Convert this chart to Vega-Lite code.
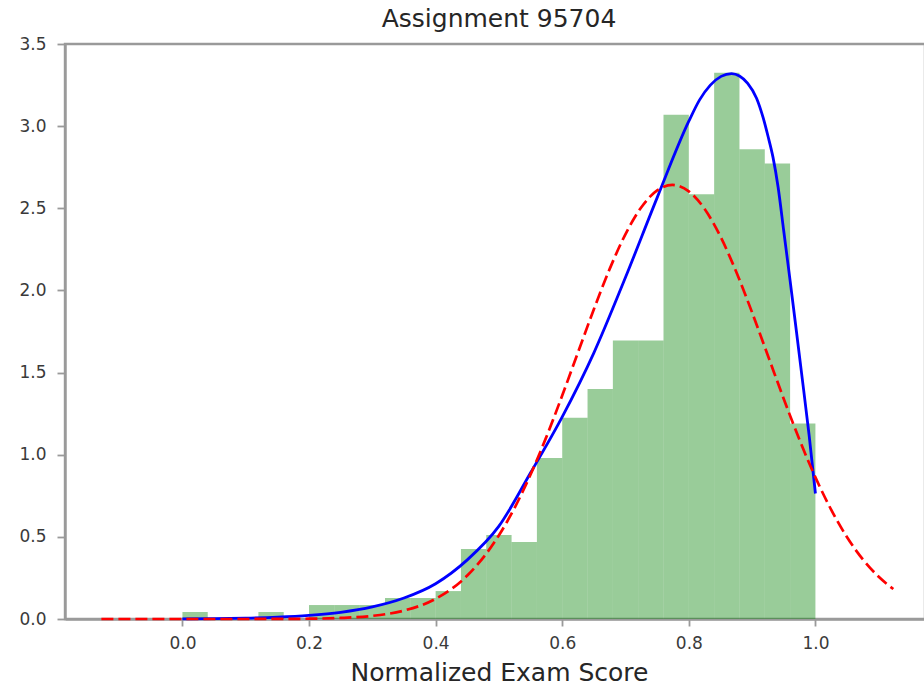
{
  "$schema": "https://vega.github.io/schema/vega-lite/v6.json",
  "width": 860,
  "height": 575,
  "autosize": {"type": "none"},
  "padding": {"left": 65, "top": 44, "right": 0, "bottom": 71},
  "title": {
    "text": "Assignment 95704",
    "font": "DejaVu Sans",
    "fontSize": 25,
    "fontWeight": "normal",
    "color": "#262626",
    "anchor": "middle",
    "dx": 4,
    "offset": 3
  },
  "datasets": {
    "bins": [
      {"start": 0.00, "end": 0.04, "density": 0.043},
      {"start": 0.04, "end": 0.08, "density": 0},
      {"start": 0.08, "end": 0.12, "density": 0},
      {"start": 0.12, "end": 0.16, "density": 0.043},
      {"start": 0.16, "end": 0.20, "density": 0},
      {"start": 0.20, "end": 0.24, "density": 0.085},
      {"start": 0.24, "end": 0.28, "density": 0.085},
      {"start": 0.28, "end": 0.32, "density": 0.085},
      {"start": 0.32, "end": 0.36, "density": 0.128},
      {"start": 0.36, "end": 0.40, "density": 0.128},
      {"start": 0.40, "end": 0.44, "density": 0.17},
      {"start": 0.44, "end": 0.48, "density": 0.426},
      {"start": 0.48, "end": 0.52, "density": 0.511},
      {"start": 0.52, "end": 0.56, "density": 0.468},
      {"start": 0.56, "end": 0.60, "density": 0.98},
      {"start": 0.60, "end": 0.64, "density": 1.225},
      {"start": 0.64, "end": 0.68, "density": 1.40},
      {"start": 0.68, "end": 0.72, "density": 1.695},
      {"start": 0.72, "end": 0.76, "density": 1.695},
      {"start": 0.76, "end": 0.80, "density": 3.07},
      {"start": 0.80, "end": 0.84, "density": 2.585},
      {"start": 0.84, "end": 0.88, "density": 3.325},
      {"start": 0.88, "end": 0.92, "density": 2.86},
      {"start": 0.92, "end": 0.96, "density": 2.772},
      {"start": 0.96, "end": 1.00, "density": 1.19}
    ],
    "skewfit": [
      {"score": 0.00, "pdf": 0.001},
      {"score": 0.05, "pdf": 0.002},
      {"score": 0.10, "pdf": 0.005},
      {"score": 0.15, "pdf": 0.011},
      {"score": 0.20, "pdf": 0.022},
      {"score": 0.25, "pdf": 0.041},
      {"score": 0.30, "pdf": 0.074},
      {"score": 0.35, "pdf": 0.128},
      {"score": 0.40, "pdf": 0.215},
      {"score": 0.45, "pdf": 0.36},
      {"score": 0.50, "pdf": 0.565},
      {"score": 0.55, "pdf": 0.89},
      {"score": 0.60, "pdf": 1.23},
      {"score": 0.65, "pdf": 1.62},
      {"score": 0.70, "pdf": 2.08},
      {"score": 0.75, "pdf": 2.565},
      {"score": 0.80, "pdf": 3.03},
      {"score": 0.817, "pdf": 3.16},
      {"score": 0.834, "pdf": 3.25},
      {"score": 0.851, "pdf": 3.303},
      {"score": 0.8676, "pdf": 3.32},
      {"score": 0.88, "pdf": 3.305},
      {"score": 0.893, "pdf": 3.26},
      {"score": 0.907, "pdf": 3.17},
      {"score": 0.9175, "pdf": 3.05},
      {"score": 0.925, "pdf": 2.94},
      {"score": 0.933, "pdf": 2.81},
      {"score": 0.941, "pdf": 2.63},
      {"score": 0.95, "pdf": 2.36},
      {"score": 0.96, "pdf": 2.06},
      {"score": 0.97, "pdf": 1.75},
      {"score": 0.978, "pdf": 1.50},
      {"score": 0.99, "pdf": 1.12},
      {"score": 1.00, "pdf": 0.764}
    ],
    "normfit": [
      {"score": -0.128, "pdf": 0},
      {"score": -0.10, "pdf": 0},
      {"score": -0.05, "pdf": 0},
      {"score": 0.00, "pdf": 0.00001},
      {"score": 0.05, "pdf": 0.00003},
      {"score": 0.10, "pdf": 0.00012},
      {"score": 0.15, "pdf": 0.0005},
      {"score": 0.20, "pdf": 0.0019},
      {"score": 0.25, "pdf": 0.0064},
      {"score": 0.30, "pdf": 0.0191},
      {"score": 0.35, "pdf": 0.0513},
      {"score": 0.40, "pdf": 0.1229},
      {"score": 0.45, "pdf": 0.2644},
      {"score": 0.50, "pdf": 0.5094},
      {"score": 0.525, "pdf": 0.6785},
      {"score": 0.55, "pdf": 0.8793},
      {"score": 0.575, "pdf": 1.1086},
      {"score": 0.60, "pdf": 1.3604},
      {"score": 0.625, "pdf": 1.6238},
      {"score": 0.65, "pdf": 1.8858},
      {"score": 0.675, "pdf": 2.1311},
      {"score": 0.70, "pdf": 2.3429},
      {"score": 0.725, "pdf": 2.5065},
      {"score": 0.75, "pdf": 2.6088},
      {"score": 0.774, "pdf": 2.642},
      {"score": 0.80, "pdf": 2.6031},
      {"score": 0.825, "pdf": 2.4956},
      {"score": 0.85, "pdf": 2.3276},
      {"score": 0.875, "pdf": 2.1123},
      {"score": 0.90, "pdf": 1.8653},
      {"score": 0.925, "pdf": 1.6025},
      {"score": 0.95, "pdf": 1.3395},
      {"score": 0.975, "pdf": 1.0893},
      {"score": 1.00, "pdf": 0.8621},
      {"score": 1.05, "pdf": 0.4973},
      {"score": 1.10, "pdf": 0.2570},
      {"score": 1.123, "pdf": 0.1827}
    ]
  },
  "layer": [
    {
      "data": {"name": "bins"},
      "mark": {"type": "rect", "fill": "#008000", "fillOpacity": 0.4, "stroke": null},
      "encoding": {
        "x": {
          "field": "start",
          "type": "quantitative",
          "scale": {"domain": [-0.1855, 1.1731], "nice": false, "zero": false},
          "axis": {
            "values": [0, 0.2, 0.4, 0.6, 0.8, 1.0],
            "format": ".1f",
            "title": "Normalized Exam Score",
            "titleFontSize": 25,
            "titleX": 434,
            "titleY": 61,
            "titleBaseline": "alphabetic",
            "titleAnchor": "middle",
            "titleAlign": "center",
            "tickSize": 7,
            "labelPadding": 9,
            "labelFontSize": 17
          }
        },
        "x2": {"field": "end"},
        "y": {
          "field": "density",
          "type": "quantitative",
          "scale": {"domain": [0, 3.5], "nice": false},
          "axis": {
            "values": [0, 0.5, 1.0, 1.5, 2.0, 2.5, 3.0, 3.5],
            "format": ".1f",
            "title": null,
            "tickSize": 8,
            "labelPadding": 11,
            "labelFontSize": 17
          }
        },
        "y2": {"datum": 0}
      }
    },
    {
      "data": {"name": "skewfit"},
      "mark": {"type": "line", "color": "#0000ff", "strokeWidth": 2.8, "interpolate": "monotone"},
      "encoding": {
        "x": {"field": "score", "type": "quantitative"},
        "y": {"field": "pdf", "type": "quantitative"}
      }
    },
    {
      "data": {"name": "normfit"},
      "mark": {"type": "line", "color": "#ff0000", "strokeWidth": 2.7, "strokeDash": [12, 5], "interpolate": "monotone"},
      "encoding": {
        "x": {"field": "score", "type": "quantitative"},
        "y": {"field": "pdf", "type": "quantitative"}
      }
    }
  ],
  "config": {
    "font": "DejaVu Sans",
    "view": {"stroke": "#9a9a9a", "strokeWidth": 2.4},
    "axis": {
      "grid": false,
      "domainColor": "#9a9a9a",
      "domainWidth": 2.4,
      "tickColor": "#9a9a9a",
      "tickWidth": 1.8,
      "labelColor": "#3a3a3a",
      "labelFont": "DejaVu Sans",
      "titleFont": "DejaVu Sans",
      "titleColor": "#262626",
      "titleFontWeight": "normal"
    }
  }
}
